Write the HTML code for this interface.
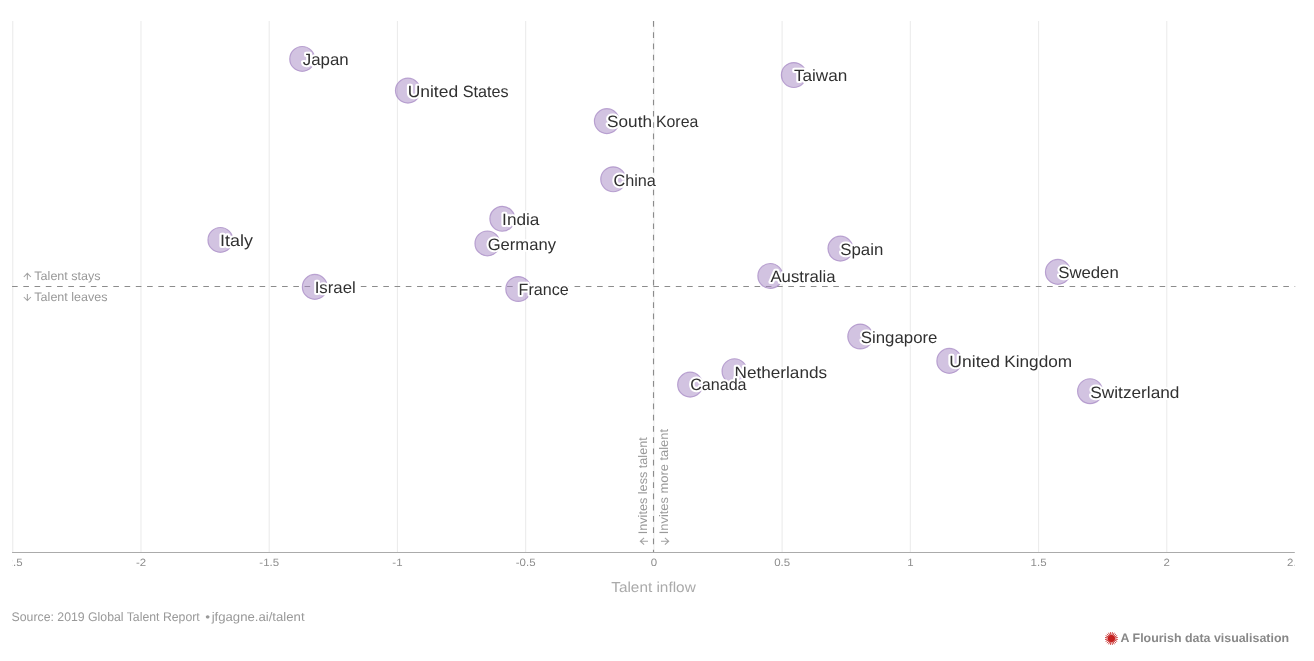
<!DOCTYPE html>
<html><head><meta charset="utf-8"><title>Talent flow</title>
<style>html,body{margin:0;padding:0;background:#fff;}body{width:1314px;height:661px;overflow:hidden;font-family:"Liberation Sans",sans-serif;}svg{display:block;position:absolute;left:0;top:0;}text{font-family:"Liberation Sans",sans-serif;text-rendering:geometricPrecision;}svg{will-change:transform;}</style></head><body>
<svg width="1314" height="661" viewBox="0 0 1314 661">
<rect width="1314" height="661" fill="#fff"/>
<g stroke="#ececec" stroke-width="1.125" fill="none">
<line x1="12.76" y1="21" x2="12.76" y2="551.9"/>
<line x1="140.98" y1="21" x2="140.98" y2="551.9"/>
<line x1="269.21" y1="21" x2="269.21" y2="551.9"/>
<line x1="397.43" y1="21" x2="397.43" y2="551.9"/>
<line x1="525.66" y1="21" x2="525.66" y2="551.9"/>
<line x1="653.88" y1="21" x2="653.88" y2="551.9"/>
<line x1="782.10" y1="21" x2="782.10" y2="551.9"/>
<line x1="910.33" y1="21" x2="910.33" y2="551.9"/>
<line x1="1038.55" y1="21" x2="1038.55" y2="551.9"/>
<line x1="1166.78" y1="21" x2="1166.78" y2="551.9"/>
</g>
<g stroke="#8c8c8c" stroke-width="1.125" stroke-dasharray="5.625 5.625" fill="none">
<line x1="653.50" y1="21" x2="653.50" y2="551.9"/>
<line x1="12.06" y1="286.5" x2="1295.20" y2="286.5"/>
</g>
<line x1="12.06" y1="552.45" x2="1294.80" y2="552.45" stroke="#ababab" stroke-width="1.1"/>
<clipPath id="tc"><rect x="12.66" y="553" width="1282.14" height="20"/></clipPath>
<g clip-path="url(#tc)" font-size="10.6" fill="#8e8e8e" text-anchor="middle">
<text transform="translate(12.76 565.7) scale(1.08 1)">-2.5</text>
<text transform="translate(140.98 565.7) scale(1.08 1)">-2</text>
<text transform="translate(269.21 565.7) scale(1.08 1)">-1.5</text>
<text transform="translate(397.43 565.7) scale(1.08 1)">-1</text>
<text transform="translate(525.66 565.7) scale(1.08 1)">-0.5</text>
<text transform="translate(653.88 565.7) scale(1.08 1)">0</text>
<text transform="translate(782.10 565.7) scale(1.08 1)">0.5</text>
<text transform="translate(910.33 565.7) scale(1.08 1)">1</text>
<text transform="translate(1038.55 565.7) scale(1.08 1)">1.5</text>
<text transform="translate(1166.78 565.7) scale(1.08 1)">2</text>
<text transform="translate(1295.00 565.7) scale(1.08 1)">2.5</text>
</g>
<g stroke="#a2a2a2" stroke-width="1.05" fill="none" stroke-linecap="butt" stroke-linejoin="miter">
<path d="M27.35 279.8V273.4M23.8 277L27.35 273.3L30.9 277"/>
<path d="M27.35 293.9V300.4M23.8 297L27.35 300.6L30.9 297"/>
<path d="M648 541.2H640.4M644.1 537.8L640.3 541.2L644.1 544.6"/>
<path d="M661 541.2H668.6M664.9 537.8L668.7 541.2L664.9 544.6"/>
</g>
<text transform="translate(34.34 279.80) scale(1.0210 1)" font-size="12.3" font-weight="400" fill="#999">Talent stays</text>
<text transform="translate(34.34 300.80) scale(1.0207 1)" font-size="12.3" font-weight="400" fill="#999">Talent leaves</text>
<text transform="translate(611.20 591.80) scale(1.0675 1)" font-size="14.4" font-weight="400" fill="#aaa">Talent inflow</text>
<text transform="translate(11.59 620.70) scale(0.9823 1)" font-size="12.5" font-weight="400" fill="#999">Source: 2019 Global Talent Report</text>
<text transform="translate(205.25 620.70) scale(1.0963 1)" font-size="12.5" font-weight="400" fill="#999">•</text>
<text transform="translate(211.66 620.70) scale(1.0523 1)" font-size="12.5" font-weight="400" fill="#999">jfgagne.ai/talent</text>
<text transform="translate(1120.62 641.90) scale(1.0178 1)" font-size="12.2" font-weight="700" fill="#888">A Flourish data visualisation</text>
<text transform="translate(646.90 534.25) rotate(-90) scale(1.0205 1)" font-size="12.4" fill="#999">Invites less talent</text>
<text transform="translate(667.90 534.27) rotate(-90) scale(1.0400 1)" font-size="12.4" fill="#999">Invites more talent</text>
<g fill="#a587c4" fill-opacity="0.5" stroke="#a587c4" stroke-opacity="0.72" stroke-width="1.15">
<circle cx="302.20" cy="58.90" r="12.45"/>
<circle cx="407.90" cy="90.60" r="12.45"/>
<circle cx="793.80" cy="75.00" r="12.45"/>
<circle cx="606.85" cy="121.10" r="12.45"/>
<circle cx="613.20" cy="179.25" r="12.45"/>
<circle cx="502.30" cy="218.80" r="12.45"/>
<circle cx="487.40" cy="243.40" r="12.45"/>
<circle cx="220.40" cy="239.90" r="12.45"/>
<circle cx="840.40" cy="248.60" r="12.45"/>
<circle cx="770.30" cy="275.95" r="12.45"/>
<circle cx="1057.90" cy="271.90" r="12.45"/>
<circle cx="314.80" cy="286.90" r="12.45"/>
<circle cx="518.25" cy="289.00" r="12.45"/>
<circle cx="860.25" cy="336.50" r="12.45"/>
<circle cx="949.30" cy="360.90" r="12.45"/>
<circle cx="734.50" cy="371.20" r="12.45"/>
<circle cx="690.10" cy="384.65" r="12.45"/>
<circle cx="1090.05" cy="391.20" r="12.45"/>
</g>
<g font-size="16.4" fill="#303030" stroke="#fff" stroke-width="4.1" stroke-linejoin="round" paint-order="stroke fill">
<text transform="translate(302.74 64.70) scale(1.0282 1)">Japan</text>
<text transform="translate(407.67 96.75) scale(1.0644 1)">United</text>
<text transform="translate(462.66 96.75) scale(0.9861 1)">States</text>
<text transform="translate(793.91 80.90) scale(1.0479 1)">Taiwan</text>
<text transform="translate(607.11 126.75) scale(1.0476 1)">South</text>
<text transform="translate(655.91 126.75) scale(0.9690 1)">Korea</text>
<text transform="translate(613.43 185.70) scale(0.9905 1)">China</text>
<text transform="translate(502.12 224.50) scale(1.0500 1)">India</text>
<text transform="translate(487.66 250.10) scale(1.0128 1)">Germany</text>
<text transform="translate(220.11 245.70) scale(1.0930 1)">Italy</text>
<text transform="translate(840.30 254.80) scale(1.0250 1)">Spain</text>
<text transform="translate(770.40 281.90) scale(1.0227 1)">Australia</text>
<text transform="translate(1058.23 277.50) scale(1.0214 1)">Sweden</text>
<text transform="translate(314.66 292.70) scale(1.0240 1)">Israel</text>
<text transform="translate(518.60 294.90) scale(0.9811 1)">France</text>
<text transform="translate(860.83 342.70) scale(1.0253 1)">Singapore</text>
<text transform="translate(949.36 366.90) scale(1.0689 1)">United</text>
<text transform="translate(1004.26 366.90) scale(1.0490 1)">Kingdom</text>
<text transform="translate(734.56 377.60) scale(1.0466 1)">Netherlands</text>
<text transform="translate(690.14 390.40) scale(0.9823 1)">Canada</text>
<text transform="translate(1090.31 397.50) scale(1.0522 1)">Switzerland</text>
</g>
<g fill="#c4201f"><circle cx="1111.40" cy="638.50" r="3.55"/><path d="M1113.87 638.89L1117.77 639.51M1113.63 639.63L1117.15 641.43M1113.17 640.27L1115.96 643.06M1112.53 640.73L1114.33 644.25M1111.79 640.97L1112.41 644.87M1111.01 640.97L1110.39 644.87M1110.27 640.73L1108.47 644.25M1109.63 640.27L1106.84 643.06M1109.17 639.63L1105.65 641.43M1108.93 638.89L1105.03 639.51M1108.93 638.11L1105.03 637.49M1109.17 637.37L1105.65 635.57M1109.63 636.73L1106.84 633.94M1110.27 636.27L1108.47 632.75M1111.01 636.03L1110.39 632.13M1111.79 636.03L1112.41 632.13M1112.53 636.27L1114.33 632.75M1113.17 636.73L1115.96 633.94M1113.63 637.37L1117.15 635.57M1113.87 638.11L1117.77 637.49" stroke="#c4201f" stroke-width="0.85" fill="none"/></g>
</svg></body></html>
